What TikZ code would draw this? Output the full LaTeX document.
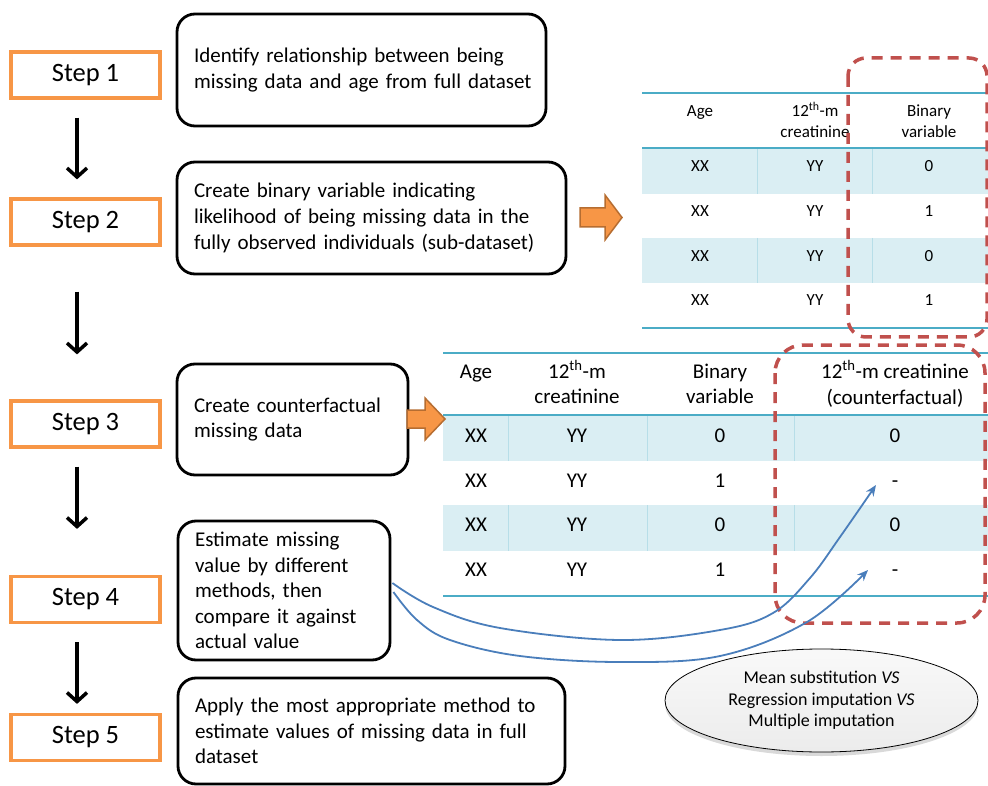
\documentclass[tikz,border=0pt]{standalone}
\usepackage{fontspec}
\setmainfont{Carlito}
\usetikzlibrary{arrows.meta,shadows,shapes.geometric}
\definecolor{stepor}{HTML}{F79646}
\definecolor{arrowor}{HTML}{F79646}
\definecolor{arrowbd}{HTML}{B66D31}
\definecolor{tabline}{HTML}{4BACC6}
\definecolor{tabfill}{HTML}{DAEEF3}
\definecolor{tabdiv}{HTML}{B7DEE8}
\definecolor{dashred}{HTML}{C0504D}
\definecolor{curveblue}{HTML}{4A7EBB}
\begin{document}
\begin{tikzpicture}[x=1pt,y=-1pt,
  stepbox/.style={draw=stepor, line width=3.2pt, minimum width=149pt, minimum height=46pt, inner sep=0pt, font=\fontsize{26.5}{31}\selectfont},
  textbox/.style={draw=black, line width=2.8pt, rounded corners=18pt, align=left, inner xsep=17pt, inner ysep=0pt, font=\fontsize{21}{25.6}\selectfont},
  flowarrow/.style={-{Straight Barb[length=9pt,width=20pt]}, line width=3.5pt},
  tabtxt/.style={anchor=base, inner sep=0pt, font=\fontsize{17}{20}\selectfont},
  tabtxtb/.style={anchor=base, inner sep=0pt, font=\fontsize{21}{25}\selectfont},
  hline/.style={draw=tabline, line width=1.5pt},
  vline/.style={draw=tabdiv, line width=1pt},
  dashbox/.style={draw=dashred, line width=3.5pt, dash pattern=on 11pt off 8pt},
  blockarrow/.style={fill=arrowor, draw=arrowbd, line width=1.5pt, line join=miter},
  curvearrow/.style={draw=curveblue, line width=1.8pt, -{Stealth[length=11pt,width=9pt]}},
  methnode/.style={ellipse, draw=black, line width=0.8pt, top color=gray!5, bottom color=gray!15, minimum width=313pt, minimum height=103pt, inner sep=0pt, align=center, font=\fontsize{18}{21.5}\selectfont, drop shadow={shadow xshift=0pt, shadow yshift=-4pt, opacity=0.3}}
]
\useasboundingbox (0,0) rectangle (988,786);

% ---------- step boxes ----------
\node[stepbox] (s1) at (85.5,75) {Step 1};
\node[stepbox] (s2) at (85.5,222) {Step 2};
\node[stepbox] (s3) at (85.5,424) {Step 3};
\node[stepbox] (s4) at (85.5,599.5) {Step 4};
\node[stepbox] (s5) at (85.5,737.5) {Step 5};

\draw[flowarrow] ([shift={(-8.5,18)}]s1.south) -- ([shift={(-8.5,-18)}]s2.north);
\draw[flowarrow] ([shift={(-8.5,45)}]s2.south) -- ([shift={(-8.5,-45)}]s3.north);
\draw[flowarrow] ([shift={(-8.5,18)}]s3.south) -- ([shift={(-8.5,-46)}]s4.north);
\draw[flowarrow] ([shift={(-8.5,18)}]s4.south) -- ([shift={(-8.5,-9)}]s5.north);

% ---------- text boxes ----------
\node[textbox, text width=335pt, minimum height=112pt] (b1) at (361.5,70)
  {\mbox{Identify relationship between being}\\\mbox{missing data and age from full dataset}};
\node[textbox, text width=355pt, minimum height=112pt] (b2) at (371.5,218)
  {\mbox{Create binary variable indicating}\\\mbox{likelihood of being missing data in the}\\\mbox{fully observed individuals (sub-dataset)}};
\node[textbox, text width=197pt, minimum height=111pt] (b3) at (292.5,419.5)
  {\mbox{Create counterfactual}\\\mbox{missing data}};
\node[textbox, text width=178pt, minimum height=139pt] (b4) at (284,590.5)
  {\mbox{Estimate missing}\\\mbox{value by different}\\\mbox{methods, then}\\\mbox{compare it against}\\\mbox{actual value}};
\node[textbox, text width=353pt, minimum height=106pt] (b5) at (371.5,731)
  {\mbox{Apply the most appropriate method to}\\\mbox{estimate values of missing data in full}\\\mbox{dataset}};

% ---------- table 1 ----------
\fill[tabfill] (642,148) rectangle (988,194);
\fill[tabfill] (642,238) rectangle (988,283);
\foreach \x in {757,872} {
  \draw[vline] (\x,148) -- (\x,194);
  \draw[vline] (\x,238) -- (\x,283);
}
\draw[hline] (642,93) -- (988,93);
\draw[hline] (642,148) -- (988,148);
\draw[hline] (642,328) -- (988,328);
\node[tabtxt] (h1a) at (700,117) {Age};
\node[tabtxt] (h1b) at (815,117) {12\textsuperscript{th}-m};
\node[tabtxt] (h1b2) at (815,138) {creatinine};
\node[tabtxt] (h1c) at (929,117) {Binary};
\node[tabtxt] (h1c2) at (929,138) {variable};
\foreach \y/\v [count=\i] in {172/0,217/1,262/0,306/1} {
  \node[tabtxt] (ta\i) at (700,\y) {XX};
  \node[tabtxt] (tb\i) at (815,\y) {YY};
  \node[tabtxt] (tc\i) at (929,\y) {\v};
}
\draw[dashbox, rounded corners=18pt] (848,58) rectangle (987,337);

% ---------- table 2 ----------
\fill[tabfill] (443,415) rectangle (988,461);
\fill[tabfill] (443,505) rectangle (988,551);
\foreach \x in {508,647,794} {
  \draw[vline] (\x,415) -- (\x,461);
  \draw[vline] (\x,505) -- (\x,551);
}
\draw[hline] (443,353) -- (988,353);
\draw[hline] (443,415) -- (988,415);
\draw[hline] (443,596) -- (988,596);
\node[tabtxtb] (h2a) at (476,378) {Age};
\node[tabtxtb] (h2b) at (577,378) {12\textsuperscript{th}-m};
\node[tabtxtb] (h2b2) at (577,403) {creatinine};
\node[tabtxtb] (h2c) at (720,378) {Binary};
\node[tabtxtb] (h2c2) at (720,403) {variable};
\node[tabtxtb] (h2d) at (895,378) {12\textsuperscript{th}-m creatinine};
\node[tabtxtb] (h2d2) at (895,404) {(counterfactual)};
\foreach \y/\v/\w [count=\i] in {442/0/0,487/1/-,531/0/0,576/1/-} {
  \node[tabtxtb] (ua\i) at (476,\y) {XX};
  \node[tabtxtb] (ub\i) at (577,\y) {YY};
  \node[tabtxtb] (uc\i) at (720,\y) {\v};
  \node[tabtxtb] (ud\i) at (895,\y) {\w};
}
\draw[dashbox, rounded corners=28pt] (775,345) rectangle (985,623);

% ---------- orange block arrows ----------
\draw[blockarrow] (580,208) -- (605,208) -- (605,195) -- (622,217.5) -- (605,240) -- (605,227) -- (580,227) -- cycle;
\draw[blockarrow] (407,410) -- (425,410) -- (425,398) -- (445,419) -- (425,440) -- (425,428) -- (407,428) -- cycle;

% ---------- methods ellipse ----------
\node[methnode] (meth) at (821.5,700.5)
  {Mean substitution \textit{VS}\\Regression imputation \textit{VS}\\Multiple imputation};

% ---------- blue curved arrows ----------
\coordinate (c1s) at ([shift={(1,-7.5)}]b4.east);
\coordinate (c2s) at ([shift={(2,1.5)}]b4.east);
\coordinate (tip1) at (876,485);
\coordinate (tip2) at (868,570);
\draw[curvearrow] plot[smooth, tension=0.6] coordinates {(c1s) (433,607) (500,628) (620,640) (720,630) (773,613) (810,578) (840,537) (tip1)};
\draw[curvearrow] plot[smooth, tension=0.6] coordinates {(c2s) (417,620) (450,640) (520,656) (620,662) (720,656) (807,622) (tip2)};
\end{tikzpicture}
\end{document}
